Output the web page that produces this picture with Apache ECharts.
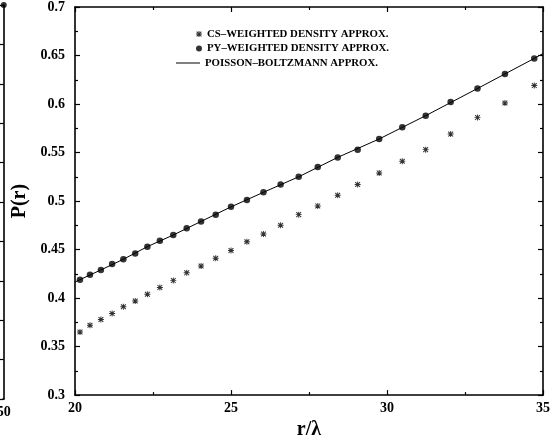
<!DOCTYPE html>
<html>
<head>
<meta charset="utf-8">
<script src="https://cdn.jsdelivr.net/npm/echarts@6/dist/echarts.min.js"></script>
<style>
  html, body { margin: 0; padding: 0; background: #fff; }
  #chart { width: 553px; height: 445px; }
</style>
</head>
<body>
<div id="chart"></div>
<script>
// r/lambda positions of the computed points
const rValues = [20.16, 20.48, 20.83, 21.19, 21.55, 21.93, 22.32, 22.72, 23.15, 23.58, 24.04, 24.51, 25.00, 25.51,
  26.04, 26.59, 27.17, 27.78, 28.42, 29.06, 29.75, 30.49, 31.24, 32.04, 32.90, 33.78, 34.72]
const csValues = [0.365, 0.372, 0.378, 0.384, 0.391, 0.397, 0.404, 0.411, 0.418, 0.426, 0.433, 0.441, 0.449, 0.458,
  0.466, 0.475, 0.486, 0.495, 0.506, 0.517, 0.529, 0.541, 0.553, 0.569, 0.586, 0.601, 0.619]
const pyValues = [0.419, 0.424, 0.429, 0.435, 0.440, 0.446, 0.453, 0.459, 0.465, 0.472, 0.479, 0.486, 0.494, 0.501,
  0.509, 0.517, 0.525, 0.535, 0.545, 0.553, 0.564, 0.576, 0.588, 0.602, 0.616, 0.631, 0.647]
// Poisson-Boltzmann curve
const pbR = [20, 20.16, 20.83, 21.55, 22.32, 23.15, 24.04, 25.00, 26.04, 27.17, 28.42, 29.75, 31.24, 32.90, 34.72, 35]
const pbValues = [0.4165, 0.419, 0.429, 0.440, 0.453, 0.465, 0.479, 0.494, 0.509, 0.525, 0.545, 0.564, 0.588, 0.616, 0.647, 0.652]
// the neighbouring panel on the left (only its right edge shows)
const leftPanelR = [50]
const leftPanelP = [10]

const names = ['CS–WEIGHTED DENSITY APPROX.', 'PY–WEIGHTED DENSITY APPROX.', 'POISSON–BOLTZMANN APPROX.']
const font = 'Liberation Serif'
const star = 'path://M0,4.2H10V5.8H0Z M4.2,0H5.8V10H4.2Z M1.6,0.4L9.6,8.4L8.4,9.6L0.4,1.6Z M8.4,0.4L9.6,1.6L1.6,9.6L0.4,8.4Z'

const zip = (a, b) => a.map((v, i) => [v, b[i]])

const frameLine = { show: true, lineStyle: { color: '#000', width: 1.6 } }
const tick = { show: true, inside: true, length: 5, lineStyle: { color: '#000', width: 1.2 } }
const minor = { show: true, splitNumber: 2, length: 3, lineStyle: { color: '#000', width: 1.2 } }
const label = { color: '#000', fontFamily: font, fontWeight: 'bold', fontSize: 14 }
const legendText = { color: '#000', fontFamily: font, fontWeight: 'bold', fontSize: 10.8 }
const legendBase = { padding: 0, selectedMode: false, textStyle: legendText }

const chart = echarts.init(document.getElementById('chart'))
chart.setOption({
  animation: false,
  backgroundColor: '#fff',
  grid: [
    { left: 75, right: 7, top: 5, bottom: 46 },
    { left: 0, width: 3, top: 5, bottom: 46 }
  ],
  legend: [
    Object.assign({ data: [names[0]], left: 196, top: 28.5, itemWidth: 6, itemHeight: 6 }, legendBase),
    Object.assign({ data: [names[1]], left: 196, top: 43, itemWidth: 6, itemHeight: 6 }, legendBase),
    Object.assign({ data: [{ name: names[2], icon: 'rect' }], left: 176, top: 57.5, itemWidth: 24, itemHeight: 1 }, legendBase)
  ],
  xAxis: [
    {
      gridIndex: 0, type: 'value', min: 20, max: 35, interval: 5,
      name: 'r/λ', nameLocation: 'middle', nameGap: 18,
      nameTextStyle: { color: '#000', fontFamily: font, fontWeight: 'bold', fontSize: 20 },
      axisLine: frameLine, axisTick: tick, minorTick: minor,
      axisLabel: Object.assign({ margin: 6 }, label),
      splitLine: { show: false }
    },
    {
      gridIndex: 0, type: 'value', position: 'top', min: 20, max: 35, interval: 5,
      axisLine: frameLine, axisTick: tick, minorTick: minor,
      axisLabel: { show: false }, splitLine: { show: false }
    },
    {
      gridIndex: 1, type: 'value', min: 49.6, max: 50, interval: 0.4,
      axisLine: frameLine, axisTick: { show: false },
      axisLabel: Object.assign({ margin: 6, showMinLabel: false }, label),
      splitLine: { show: false }
    }
  ],
  yAxis: [
    {
      gridIndex: 0, type: 'value', min: 0.3, max: 0.7, interval: 0.05,
      name: 'P(r)', nameLocation: 'middle', nameGap: 40,
      nameTextStyle: { color: '#000', fontFamily: font, fontWeight: 'bold', fontSize: 20 },
      axisLine: frameLine, axisTick: tick, minorTick: minor,
      axisLabel: Object.assign({ margin: 10 }, label),
      splitLine: { show: false }
    },
    {
      gridIndex: 0, type: 'value', position: 'right', min: 0.3, max: 0.7, interval: 0.05,
      axisLine: frameLine, axisTick: tick, minorTick: minor,
      axisLabel: { show: false }, splitLine: { show: false }
    },
    {
      gridIndex: 1, type: 'value', position: 'right', min: 0, max: 10, interval: 1,
      axisLine: frameLine, axisTick: { show: true, inside: true, length: 5, lineStyle: { color: '#000', width: 1.2 } },
      axisLabel: { show: false }, splitLine: { show: false }
    }
  ],
  series: [
    {
      name: names[2], type: 'line', xAxisIndex: 0, yAxisIndex: 0,
      data: zip(pbR, pbValues), showSymbol: false, symbol: 'none',
      lineStyle: { color: '#000', width: 1 }, itemStyle: { color: '#000' }, z: 2
    },
    {
      name: names[0], type: 'scatter', xAxisIndex: 0, yAxisIndex: 0,
      data: zip(rValues, csValues), symbol: star, symbolSize: 6,
      itemStyle: { color: '#000' }, z: 3
    },
    {
      name: names[1], type: 'scatter', xAxisIndex: 0, yAxisIndex: 0,
      data: zip(rValues, pyValues), symbol: 'circle', symbolSize: 6.5,
      itemStyle: { color: '#000' }, z: 3
    },
    {
      name: 'left panel', type: 'scatter', xAxisIndex: 2, yAxisIndex: 2,
      data: zip(leftPanelR, leftPanelP), symbol: 'circle', symbolSize: 6,
      itemStyle: { color: '#000' }, clip: false
    }
  ]
})
</script>
</body>
</html>
